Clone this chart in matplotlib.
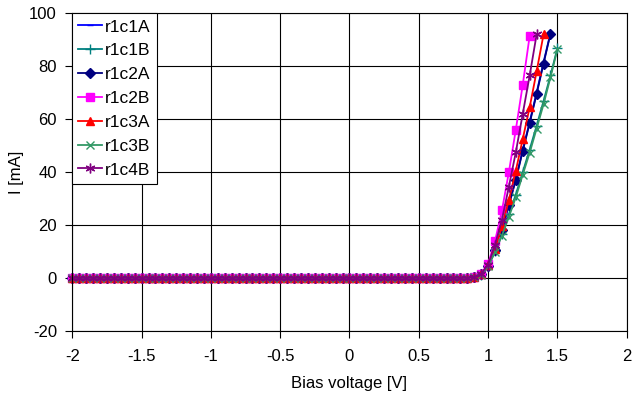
import numpy as np
import matplotlib
matplotlib.use("Agg")
import matplotlib.pyplot as plt

plt.rcParams['font.family'] = ['Liberation Sans', 'DejaVu Sans']

# Low-bias region: -2.00 V .. 0.85 V in 0.05 V steps, all read as 0 mA
v_low = np.round(np.arange(-2.0, 0.851, 0.05), 2)
i_low = [0.0] * len(v_low)

# Forward region (from 0.90 V, 0.05 V steps)
v_fwd = [0.90, 0.95, 1.00, 1.05, 1.10, 1.15, 1.20, 1.25, 1.30, 1.35, 1.40, 1.45, 1.50]

r1c1A = [0.3, 1.3, 4.7, 10.7, 18.3, 27.8, 37.5, 48.3, 59.0, 70.0, 81.5, 92.5]
r1c1B = [0.3, 1.2, 4.4, 10.0, 16.5, 24.0, 31.5, 40.0, 48.5, 57.5, 66.8, 76.5, 86.8]
r1c2A = [0.3, 1.3, 4.6, 10.5, 18.0, 27.5, 37.0, 48.0, 58.5, 69.5, 81.0, 92.3]
r1c2B = [0.4, 1.6, 5.3, 13.9, 25.5, 40.0, 56.0, 73.0, 91.5]
r1c3A = [0.3, 1.4, 4.8, 11.0, 19.5, 29.5, 40.5, 52.5, 64.5, 78.0, 92.0]
r1c3B = [0.3, 1.2, 4.3, 9.7, 16.0, 23.0, 30.5, 39.0, 47.3, 56.4, 65.6, 75.8, 86.4]
r1c4B = [0.4, 1.5, 5.0, 12.5, 22.0, 34.5, 47.5, 62.0, 76.5, 92.0]

series = [
    ("r1c1A", r1c1A, "#0000FF", "_", 4),
    ("r1c1B", r1c1B, "#008080", "+", 7),
    ("r1c2A", r1c2A, "#000080", "D", 5),
    ("r1c2B", r1c2B, "#FF00FF", "s", 6),
    ("r1c3A", r1c3A, "#FF0000", "^", 6),
    ("r1c3B", r1c3B, "#339966", "x", 6),
    ("r1c4B", r1c4B, "#800080", (6, 2, 0), 7),
]

x_ticks = [-2, -1.5, -1, -0.5, 0, 0.5, 1, 1.5, 2]
x_tick_labels = ["-2", "-1.5", "-1", "-0.5", "0", "0.5", "1", "1.5", "2"]
y_ticks = [-20, 0, 20, 40, 60, 80, 100]

fig = plt.figure(figsize=(6.34, 3.98), dpi=100)
ax = fig.add_axes([0.114, 0.169, 0.8745, 0.7976])

for name, vals, col, mk, ms in series:
    v = list(v_low) + v_fwd[:len(vals)]
    i = list(i_low) + vals
    ax.plot(v, i, color=col, marker=mk, markersize=ms, linewidth=1.3,
            markeredgewidth=1.0, label=name, clip_on=False)

ax.set_xlim(-2, 2)
ax.set_ylim(-20, 100)
ax.set_xticks(x_ticks)
ax.set_xticklabels(x_tick_labels)
ax.set_yticks(y_ticks)
ax.set_yticklabels([str(t) for t in y_ticks])
ax.grid(True, color="black", linewidth=0.8)
ax.set_axisbelow(True)
for s in ax.spines.values():
    s.set_color("black")
    s.set_linewidth(0.8)
ax.tick_params(direction="out", length=5, width=0.8, labelsize=12)
ax.tick_params(axis="x", pad=8)
ax.tick_params(axis="y", pad=6)
ax.set_xlabel("Bias voltage [V]", fontsize=12, labelpad=9)
ax.set_ylabel("I [mA]", fontsize=12, labelpad=4)

leg = ax.legend(loc="upper left", bbox_to_anchor=(0, 1), borderaxespad=0.0,
                fancybox=False, frameon=True, edgecolor="black", framealpha=1,
                fontsize=12.5, handlelength=1.35, handletextpad=0.2,
                labelspacing=0.5, borderpad=0.35)
leg.get_frame().set_linewidth(0.8)

fig.savefig("out.png", dpi=100)
